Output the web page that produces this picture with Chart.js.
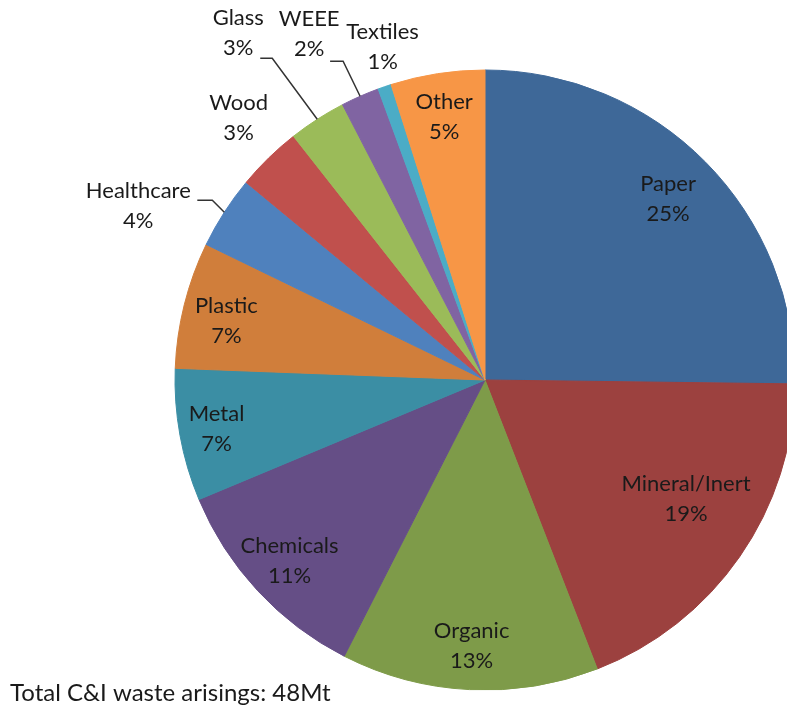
<!DOCTYPE html>
<html>
<head>
<meta charset="utf-8">
<script src="https://cdn.jsdelivr.net/npm/chart.js@4"></script>
<style>
  body { margin: 0; background: #fff; }
  #wrap { width: 787px; height: 708px; position: relative; }
</style>
</head>
<body>
<div id="wrap"><canvas id="pie"></canvas></div>
<script>
const categories = ['Paper', 'Mineral/Inert', 'Organic', 'Chemicals', 'Metal', 'Plastic',
  'Healthcare', 'Wood', 'Glass', 'WEEE', 'Textiles', 'Other'];
const shares = [25.2, 18.9, 13.4, 11.2, 6.9, 6.6, 3.8, 3.4, 3.0, 2.0, 0.7, 4.9];
const colors = ['#3e6898', '#9c413f', '#7e9b49', '#654e86', '#3b8ea4', '#d07e3b',
  '#4f81bd', '#c0504d', '#9bbb59', '#8064a2', '#4bacc6', '#f79646'];
const footnote = 'Total C&I waste arisings: 48Mt';

// labels placed outside the pie: offset from the slice's rim point, optional leader elbow
const outsideLabels = {
  'Healthcare': { dx: -86, dy: -6, leader: [59, -6, 74, -6] },
  'Wood': { dx: -30, dy: -40 },
  'Glass': { dx: -79, dy: -86, leader: [22, 25, 34, 25] },
  'WEEE': { dx: -51, dy: -62, leader: [21, 27, 34, 27] },
  'Textiles': { dx: -2, dy: -40 }
};
// inside labels: fraction of radius along the mid angle, plus a small nudge
const insideLabels = {
  'Paper': { k: 0.83 },
  'Mineral/Inert': { k: 0.75, dx: 10, dy: -14 },
  'Metal': { k: 0.88 },
  'Plastic': { k: 0.86, dy: 6 }
};

const total = shares.reduce((s, v) => s + v, 0);

const sliceLabels = {
  id: 'sliceLabels',
  afterDatasetsDraw(chart) {
    const ctx = chart.ctx;
    const meta = chart.getDatasetMeta(0);
    ctx.save();
    ctx.font = '22px Lato';
    ctx.fillStyle = '#1a1a1a';
    ctx.strokeStyle = '#333';
    ctx.lineWidth = 1.5;
    ctx.textAlign = 'center';
    ctx.textBaseline = 'middle';
    meta.data.forEach((arc, i) => {
      const p = arc.getProps(['x', 'y', 'startAngle', 'endAngle', 'outerRadius'], true);
      const mid = (p.startAngle + p.endAngle) / 2;
      const name = categories[i];
      const pct = Math.round(shares[i] / total * 100) + '%';
      const out = outsideLabels[name];
      let cx, cy;
      if (out) {
        const ex = p.x + Math.cos(mid) * p.outerRadius;
        const ey = p.y + Math.sin(mid) * p.outerRadius;
        cx = ex + out.dx;
        cy = ey + out.dy;
        if (out.leader) {
          ctx.beginPath();
          ctx.moveTo(cx + out.leader[0], cy + out.leader[1]);
          ctx.lineTo(cx + out.leader[2], cy + out.leader[3]);
          ctx.lineTo(ex, ey);
          ctx.stroke();
        }
      } else {
        const ins = insideLabels[name] || {};
        const k = ins.k || 0.86;
        cx = p.x + Math.cos(mid) * p.outerRadius * k + (ins.dx || 0);
        cy = p.y + Math.sin(mid) * p.outerRadius * k + (ins.dy || 0);
      }
      ctx.fillText(name, cx, cy - 15);
      ctx.fillText(pct, cx, cy + 15);
    });
    ctx.font = '24px Lato';
    ctx.textAlign = 'left';
    ctx.fillText(footnote, 10, 693);
    ctx.restore();
  }
};

new Chart(document.getElementById('pie'), {
  type: 'pie',
  data: {
    labels: categories,
    datasets: [{
      data: shares,
      backgroundColor: colors,
      borderColor: colors,
      borderWidth: 1,
      radius: 310,
      clip: false
    }]
  },
  options: {
    responsive: true,
    maintainAspectRatio: false,
    animation: false,
    layout: { padding: { left: 183, right: 0, top: 70, bottom: 18 } },
    plugins: {
      legend: { display: false },
      tooltip: { enabled: false }
    }
  },
  plugins: [sliceLabels]
});
</script>
</body>
</html>
